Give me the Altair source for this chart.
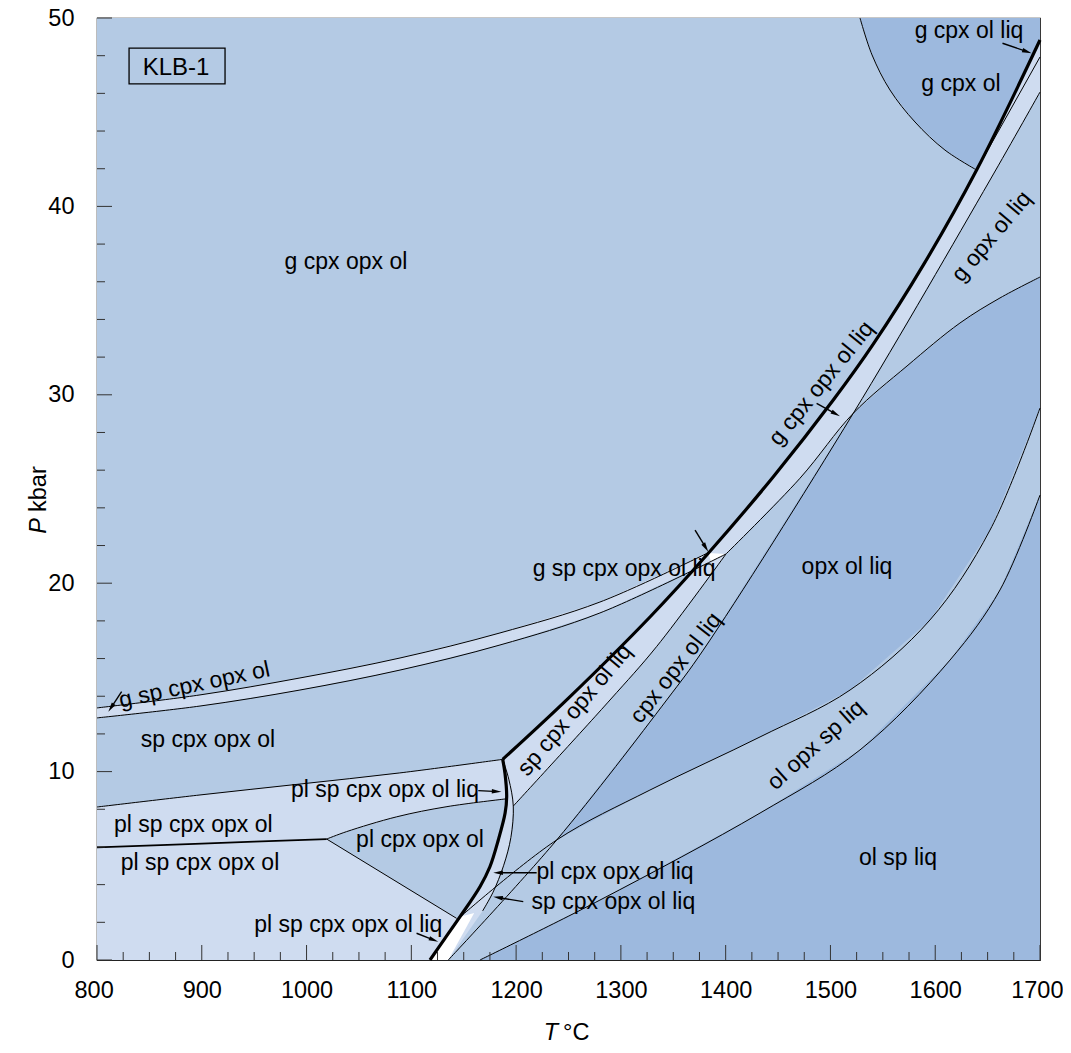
import math
import altair as alt
import pandas as pd

W, H = 943, 942
T_DOM = [800, 1700]
P_DOM = [0, 50]
KX = W / (T_DOM[1] - T_DOM[0])
KY = H / (P_DOM[1] - P_DOM[0])

MID = "#b4cae4"
LIGHT = "#cfdcf0"
DARK = "#9db9de"
WHITE = "#ffffff"
FONT = "Liberation Sans"
FS = 23

# ---- boundary curves (T degC, P kbar) ----
SOLIDUS_LO = [(1117.8, 0.0), (1132.1, 1.15), (1146.5, 2.3), (1165.5, 3.89), (1175, 4.95), (1183, 6.37),
              (1189.5, 7.8), (1191, 8.67), (1189.4, 9.9), (1187.2, 10.65)]
SOLIDUS_HI = [(1187.2, 10.65), (1250, 13.9), (1328, 18.22), (1383.4, 21.59),
              (1445.5, 25.65), (1502.7, 29.72), (1541, 32.7), (1589, 36.92), (1639.5, 41.93), (1700, 48.83)]
GS_UP = [(800, 13.38), (898.3, 14.07), (993.7, 14.97), (1089.2, 16.03), (1184.6, 17.36), (1280, 19.0), (1383.4, 21.62)]
GS_LO = [(800, 12.85), (898.3, 13.48), (993.7, 14.33), (1089.2, 15.39), (1184.6, 16.72), (1280, 18.42), (1400.3, 21.55)]
PL_IN = [(800, 8.12), (898.3, 8.76), (993.7, 9.34), (1089, 9.93), (1187.2, 10.65)]
PL_SP = [(800, 5.98), (900, 6.18), (1019.2, 6.42)]
PLW_UP = [(1019.2, 6.42), (1038, 6.81), (1086, 7.6), (1134, 8.14), (1190, 8.55)]
PLW_LO = [(1019.2, 6.42), (1143.2, 2.21)]
THIN = [(1168, 2.6), (1178, 3.6), (1188, 5.0), (1195, 6.5), (1197.3, 8.17), (1193, 9.6), (1187.2, 10.65)]
L_LINE = [(1197.3, 8.17), (1289.6, 13.8), (1334, 16.63), (1400.3, 21.55)]
X_LINE = [(1400.3, 21.55), (1470.9, 25.57), (1521.8, 29.02), (1573.1, 31.53), (1623.6, 33.81), (1661.8, 35.14), (1700, 36.25)]
Y_LINE = [(1135.3, 0.0), (1238.7, 6.37), (1343.7, 13.8), (1378.6, 16.45), (1521.8, 29.02), (1652.3, 41.4), (1700, 46.07)]
LINE5 = [(1146.5, 2.28), (1238.7, 6.37), (1327.7, 9.02), (1432.8, 11.84), (1518.7, 14.33), (1595, 18.05), (1652.3, 22.82), (1700, 29.3)]
LINE6 = [(1165.5, 0.0), (1280, 3.18), (1432.8, 7.8), (1528.2, 11.15), (1614.1, 15.92), (1661.8, 19.64), (1700, 24.68)]
GCO = [(1528.2, 50), (1539.7, 48.04), (1556.8, 46.18), (1580.7, 44.48), (1609.3, 42.99), (1639.5, 41.93)]
THIN1 = [(1639.5, 41.93), (1700, 47.93)]
GSP_WEDGE = [(1383.4, 21.6), (1400.3, 21.55), (1386, 21.15)]
PL_WEDGE = [(1117.8, 0.0), (1132.1, 1.15), (1146.5, 2.3), (1160, 2.5), (1135.3, 0.0)]

# ---- labels ----
LABELS = [
    ("g cpx opx ol", 1037.6, 37.05, 0),
    ("g cpx ol liq", 1632.2, 49.3, 0),
    ("g cpx ol", 1624.6, 46.5, 0),
    ("g opx ol liq", 1654, 38.4, 310),
    ("g cpx opx ol liq", 1491.5, 30.6, 309),
    ("g sp cpx opx ol liq", 1303, 20.75, 0),
    ("opx ol liq", 1515.8, 20.86, 0),
    ("cpx opx ol liq", 1352.6, 15.5, 308),
    ("sp cpx opx ol liq", 1256, 13.27, 310),
    ("g sp cpx opx ol", 893, 14.6, 348),
    ("sp cpx opx ol", 905.9, 11.68, 0),
    ("pl sp cpx opx ol liq", 1074.9, 9.02, 0),
    ("pl sp cpx opx ol", 891.9, 7.17, 0),
    ("pl cpx opx ol", 1108.3, 6.37, 0),
    ("pl sp cpx opx ol", 898.3, 5.13, 0),
    ("pl sp cpx opx ol liq", 1039.8, 1.86, 0),
    ("pl cpx opx ol liq", 1294.4, 4.69, 0),
    ("sp cpx opx ol liq", 1292.8, 3.1, 0),
    ("ol opx sp liq", 1486.2, 11.41, 318),
    ("ol sp liq", 1564.5, 5.41, 0),
]
ARROWS = [  # (T0, P0, T1 tip, P1 tip)
    (1664.2, 48.66, 1692.0, 48.13),
    (1486.8, 29.55, 1509.1, 28.86),
    (1370.8, 22.82, 1383.4, 21.67),
    (823.5, 14.24, 810.8, 13.18),
    (1163.9, 8.99, 1186.0, 8.93),
    (1105.0, 1.42, 1125.7, 0.97),
    (1219.6, 4.63, 1178.2, 4.63),
    (1206.8, 3.1, 1178.2, 3.36),
]
BOX_TEXT = ("KLB-1", 875.4, 47.35)
BOX = (830.6, 922.2, 46.5, 48.4)

X_MAJOR = list(range(800, 1701, 100))
X_MINOR = [t for t in range(825, 1700, 25) if t % 100 != 0]
Y_MAJOR = list(range(0, 51, 10))
Y_MINOR = [p for p in range(2, 50, 2) if p % 10 != 0]

xs = alt.Scale(domain=T_DOM, nice=False, zero=False)
ys = alt.Scale(domain=P_DOM, nice=False, zero=False)


def pts_df(pts):
    return pd.DataFrame({"T": [p[0] for p in pts], "P": [p[1] for p in pts], "i": list(range(len(pts)))})


def poly(pts, color):
    return alt.Chart(pts_df(pts)).mark_line(fill=color, strokeWidth=0, interpolate="linear").encode(
        x=alt.X("T:Q", scale=xs), y=alt.Y("P:Q", scale=ys), order="i:Q")


def curve(pts, width=1.0):
    return alt.Chart(pts_df(pts)).mark_line(color="black", strokeWidth=width, interpolate="catmull-rom").encode(
        x=alt.X("T:Q", scale=xs), y=alt.Y("P:Q", scale=ys), order="i:Q")


layers = []
bg = alt.Chart(pd.DataFrame({"t0": [T_DOM[0]], "t1": [T_DOM[1]], "p0": [P_DOM[0]], "p1": [P_DOM[1]]})).mark_rect(
    color=MID).encode(
    x=alt.X("t0:Q", scale=xs, axis=alt.Axis(title=None, values=X_MAJOR, ticks=False, domain=False, grid=False,
                                             format="d", labelFlush=True, labelFlushOffset=23,
                                             labelFont=FONT, labelFontSize=23.5, labelColor="black", labelPadding=18)),
    x2="t1:Q",
    y=alt.Y("p0:Q", scale=ys, axis=alt.Axis(title=None, values=Y_MAJOR, ticks=False, domain=False, grid=False,
                                             format="d", labelFlush=False,
                                             labelFont=FONT, labelFontSize=23.5, labelColor="black", labelPadding=23)),
    y2="p1:Q")
layers.append(bg)

SOLIDUS = SOLIDUS_LO + SOLIDUS_HI[1:]
# painter's order
layers.append(poly(GS_UP + GS_LO[::-1], LIGHT))
layers.append(poly([(800, 0)] + PL_IN + [(1200, 10.65), (1200, 0)], LIGHT))
layers.append(poly(PLW_UP + [(1200, 8.55), (1200, 2.21)] + PLW_LO[::-1], MID))
layers.append(poly(SOLIDUS + [(1700, 0)], LIGHT))
layers.append(poly(PL_WEDGE, WHITE))
layers.append(poly(GSP_WEDGE, WHITE))
layers.append(poly([(1135.3, 0)] + THIN[:5] + L_LINE[1:] + X_LINE[1:3] + Y_LINE[5:] + [(1700, 0)], MID))
layers.append(poly(Y_LINE[1:5] + X_LINE[3:] + LINE5[::-1][:-1], DARK))
layers.append(poly(LINE6 + [(1700, 0)], DARK))
layers.append(poly(GCO + [(1700, 48.83), (1700, 50)], DARK))

for c in [GS_UP, GS_LO, PL_IN, PLW_UP, PLW_LO, THIN, L_LINE, X_LINE, Y_LINE, LINE5, LINE6, GCO, THIN1]:
    layers.append(curve(c, 1.0))
layers.append(curve(PL_SP, 1.7))
layers.append(curve(SOLIDUS_LO, 3.2))
layers.append(curve(SOLIDUS_HI, 3.2))

# ticks
tick_x = pd.DataFrame({"T": X_MAJOR + X_MINOR, "len": [15] * len(X_MAJOR) + [8] * len(X_MINOR)})
tick_x["y0"] = H
tick_x["y1"] = H - tick_x["len"]
layers.append(alt.Chart(tick_x).mark_rule(color="#333", strokeWidth=1).encode(
    x=alt.X("T:Q", scale=xs), y=alt.Y("y0:Q", scale=None), y2="y1:Q"))
tick_y = pd.DataFrame({"P": Y_MAJOR + Y_MINOR, "len": [15] * len(Y_MAJOR) + [8] * len(Y_MINOR)})
tick_y["x0"] = 0
layers.append(alt.Chart(tick_y).mark_rule(color="#333", strokeWidth=1).encode(
    y=alt.Y("P:Q", scale=ys), x=alt.X("x0:Q", scale=None), x2="len:Q"))

# labels
lab = pd.DataFrame(LABELS, columns=["text", "T", "P", "angle"])
layers.append(alt.Chart(lab).mark_text(font=FONT, fontSize=FS, color="black", align="center", baseline="middle").encode(
    x=alt.X("T:Q", scale=xs), y=alt.Y("P:Q", scale=ys), text="text:N", angle=alt.Angle("angle:Q", scale=None)))

# arrows
HEAD = 5.5  # half box size of arrow head symbol (px)
arr_rows = []
head_rows = []
for k, (t0, p0, t1, p1) in enumerate(ARROWS):
    dx = (t1 - t0) * KX
    dy = (p1 - p0) * KY
    ln = math.hypot(dx, dy)
    ux, uy = dx / ln, dy / ln
    arr_rows.append({"a": k, "T": t0, "P": p0, "i": 0})
    arr_rows.append({"a": k, "T": t1 - ux * 8 / KX, "P": p1 - uy * 8 / KY, "i": 1})
    ang = math.degrees(math.atan2(dx, dy)) % 360
    head_rows.append({"T": t1 - ux * HEAD / KX, "P": p1 - uy * HEAD / KY, "ang": ang})
layers.append(alt.Chart(pd.DataFrame(arr_rows)).mark_line(color="black", strokeWidth=1.4).encode(
    x=alt.X("T:Q", scale=xs), y=alt.Y("P:Q", scale=ys), detail="a:N", order="i:Q"))
layers.append(alt.Chart(pd.DataFrame(head_rows)).mark_point(
    shape="M0,-1L0.4,0.75L-0.4,0.75Z", filled=True, color="black", size=(2 * HEAD) ** 2, opacity=1, strokeWidth=0).encode(
    x=alt.X("T:Q", scale=xs), y=alt.Y("P:Q", scale=ys), angle=alt.Angle("ang:Q", scale=None)))

# KLB-1 box
box = pd.DataFrame({"t0": [BOX[0]], "t1": [BOX[1]], "p0": [BOX[2]], "p1": [BOX[3]]})
layers.append(alt.Chart(box).mark_rect(fill="transparent", stroke="black", strokeWidth=1.3).encode(
    x=alt.X("t0:Q", scale=xs), x2="t1:Q", y=alt.Y("p0:Q", scale=ys), y2="p1:Q"))
layers.append(alt.Chart(pd.DataFrame({"text": [BOX_TEXT[0]], "T": [BOX_TEXT[1]], "P": [BOX_TEXT[2]]})).mark_text(
    font=FONT, fontSize=24, color="black").encode(x=alt.X("T:Q", scale=xs), y=alt.Y("P:Q", scale=ys), text="text:N"))

# axis titles
titles = [
    ("T", 461, 1015, 0, "italic", "right"),
    ("\u00b0C", 466, 1015, 0, "normal", "left"),
    ("P", -58, 500, 270, "italic", "right"),
    ("kbar", -58, 494, 270, "normal", "left"),
]
for txt, px, py, ang, style, al in titles:
    layers.append(alt.Chart(pd.DataFrame({"t": [txt]})).mark_text(
        font=FONT, fontSize=23.5, fontStyle=style, color="black", align=al, baseline="middle", angle=ang).encode(
        x=alt.value(px), y=alt.value(py), text="t:N"))

chart = alt.layer(*layers).properties(
    width=W, height=H,
    autosize=alt.AutoSizeParams(type="none"),
    padding={"left": 89, "top": 10, "right": 23, "bottom": 85},
).configure_view(stroke="#222", strokeWidth=1.2).configure_axis(grid=False)

chart.save("out.html", embed_options={"renderer": "svg", "actions": False})
